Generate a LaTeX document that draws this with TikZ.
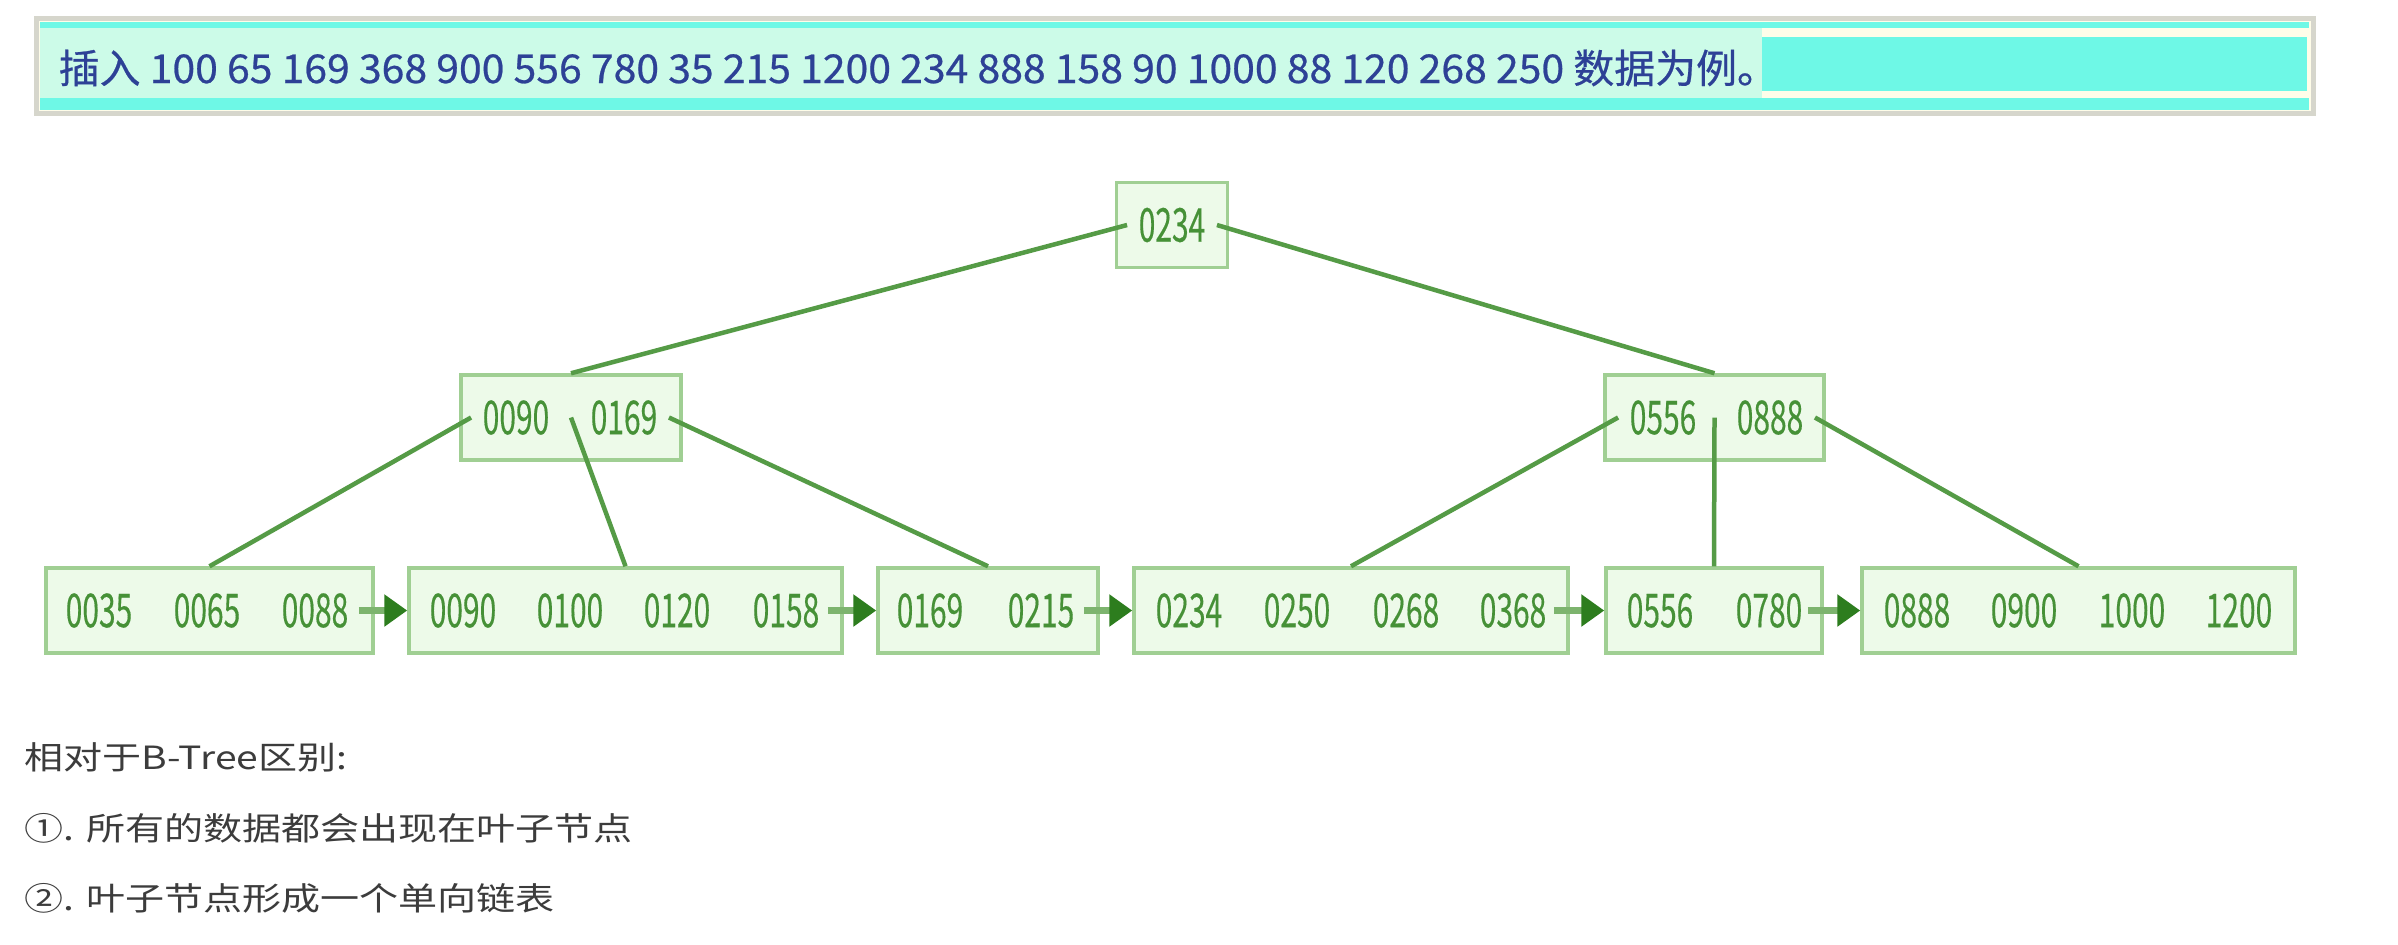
\documentclass[tikz,border=0pt]{standalone}
\usepackage{fontspec}
\usetikzlibrary{arrows.meta,calc}
\setmainfont{Noto Sans CJK SC}
\newfontfamily\leaffont[FakeStretch=0.64,FakeBold=0.3]{Noto Sans CJK SC}
\newfontfamily\bannerfont[FakeStretch=1.03,FakeBold=0.6]{Noto Sans CJK SC}
\newfontfamily\notefont[FakeStretch=1.22]{Noto Sans CJK SC}
\newlength\upx \setlength\upx{0.01cm}
\definecolor{boxfill}{RGB}{237,250,233}
\definecolor{boxline}{RGB}{160,207,147}
\definecolor{keytext}{RGB}{70,145,55}
\definecolor{edgecol}{RGB}{85,155,70}
\definecolor{shaftcol}{RGB}{125,180,110}
\definecolor{tipcol}{RGB}{45,125,30}
\definecolor{cream}{RGB}{255,253,233}
\definecolor{cyanhl}{RGB}{110,248,230}
\definecolor{bannerborder}{RGB}{214,214,204}
\definecolor{bannertext}{RGB}{45,65,150}
\definecolor{notetext}{RGB}{60,60,60}
\begin{document}
\begin{tikzpicture}[x=0.01cm,y=-0.01cm,
  box/.style={draw=boxline, fill=boxfill, line width=3.5\upx, minimum height=85\upx, inner sep=0pt},
  key/.style={font=\leaffont\fontsize{13.3}{14}\selectfont, text=keytext, inner sep=11\upx},
  treeline/.style={draw=edgecol, line width=4.5\upx},
  link/.style={draw=shaftcol, line width=7\upx, -{Triangle[length=6.54pt,width=8.8pt,color=tipcol]}},
  note/.style={anchor=base west, inner sep=0pt, font=\notefont\fontsize{9.1}{10}\selectfont, text=notetext}
]
\useasboundingbox (0,0) rectangle (2398,944);
\fill[white] (0,0) rectangle (2398,944);
% banner
\draw[draw=bannerborder, fill=cream, line width=5\upx] (36,18) rectangle (2313,113);
\fill[cyanhl] (40,22) rectangle (2309,28);
\fill[cyanhl] (40,98) rectangle (2309,110);
\fill[cyanhl!35!cream] (40,28) rectangle (1762,98);
\fill[cyanhl] (1762,37) rectangle (2307,91);
\node[anchor=base west, inner sep=0pt, text=bannertext, font=\bannerfont\fontsize{11.3}{12}\selectfont] (banner) at (58,83) {插入 100 65 169 368 900 556 780 35 215 1200 234 888 158 90 1000 88 120 268 250 数据为例。};
% boxes
\node[box, minimum width=111\upx] (root) at (1172,225) {};
\node[box, minimum width=220\upx] (ml) at (571,417.5) {};
\node[box, minimum width=219\upx] (mr) at (1714.5,417.5) {};
\node[box, minimum width=327\upx] (l1) at (209.5,610.5) {};
\node[box, minimum width=433\upx] (l2) at (625.5,610.5) {};
\node[box, minimum width=220\upx] (l3) at (988,610.5) {};
\node[box, minimum width=434\upx] (l4) at (1351,610.5) {};
\node[box, minimum width=216\upx] (l5) at (1714,610.5) {};
\node[box, minimum width=433\upx] (l6) at (2078.5,610.5) {};
% keys
\node[key] (r1) at (1172,225) {0234};
\node[key] (ml1) at (516,417.5) {0090};
\node[key] (ml2) at (624,417.5) {0169};
\node[key] (mr1) at (1663,417.5) {0556};
\node[key] (mr2) at (1770,417.5) {0888};
\node[key] (a1) at (99,610.5) {0035};
\node[key] (a2) at (207,610.5) {0065};
\node[key] (a3) at (315,610.5) {0088};
\node[key] (b1) at (463,610.5) {0090};
\node[key] (b2) at (570,610.5) {0100};
\node[key] (b3) at (677,610.5) {0120};
\node[key] (b4) at (786,610.5) {0158};
\node[key] (c1) at (930,610.5) {0169};
\node[key] (c2) at (1041,610.5) {0215};
\node[key] (d1) at (1189,610.5) {0234};
\node[key] (d2) at (1297,610.5) {0250};
\node[key] (d3) at (1406,610.5) {0268};
\node[key] (d4) at (1513,610.5) {0368};
\node[key] (e1) at (1660,610.5) {0556};
\node[key] (e2) at (1769,610.5) {0780};
\node[key] (f1) at (1917,610.5) {0888};
\node[key] (f2) at (2024,610.5) {0900};
\node[key] (f3) at (2132,610.5) {1000};
\node[key] (f4) at (2239,610.5) {1200};
% tree connectors
\draw[treeline] (r1.west) -- (ml.north);
\draw[treeline] (r1.east) -- (mr.north);
\draw[treeline] (ml1.west) -- (l1.north);
\draw[treeline] (ml.center) -- (l2.north);
\draw[treeline] (ml2.east) -- (l3.north);
\draw[treeline] (mr1.west) -- (l4.north);
\draw[treeline] (mr.center) -- (l5.north);
\draw[treeline] (mr2.east) -- (l6.north);
% leaf links
\draw[link] ($(l1.east)+(-16,0)$) -- (l2.west);
\draw[link] ($(l2.east)+(-16,0)$) -- (l3.west);
\draw[link] ($(l3.east)+(-16,0)$) -- (l4.west);
\draw[link] ($(l4.east)+(-16,0)$) -- (l5.west);
\draw[link] ($(l5.east)+(-16,0)$) -- (l6.west);
% notes
\node[note] (n1) at (24,769) {相对于B-Tree区别:};
\node[note] (n2) at (24,840) {①. 所有的数据都会出现在叶子节点};
\node[note] (n3) at (24,910) {②. 叶子节点形成一个单向链表};
\end{tikzpicture}
\end{document}
